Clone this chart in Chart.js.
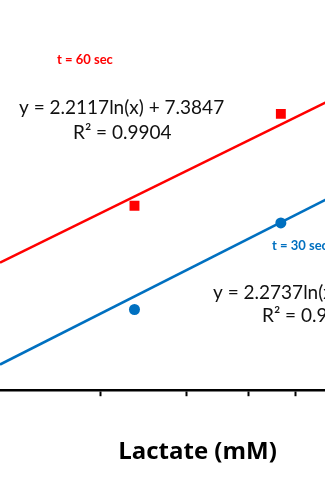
<!DOCTYPE html>
<html>
<head>
<meta charset="utf-8">
<script src="https://cdn.jsdelivr.net/npm/chart.js@4.4.0/dist/chart.umd.min.js"></script>
<style>
  html, body { margin: 0; padding: 0; background: #fff; overflow: hidden; }
  #wrap { position: relative; width: 325px; height: 487px; overflow: hidden; }
  #chart { position: absolute; left: 0; top: 0; }
</style>
</head>
<body>
<div id="wrap"><canvas id="chart" width="395" height="487"></canvas></div>
<script>
// lactate concentration of the calibration points (mM)
const lactate = [2.35, 4.66];
// response after 60 s and after 30 s
const signal60 = [9.08, 11.01];
const signal30 = [6.90, 8.72];
// logarithmic trendlines, y = a*ln(x) + b
const fit60 = { a: 2.2117, b: 7.3847, r2: 0.9904 };
const fit30 = { a: 2.2737, b: 5.2312, r2: 0.9866 };
// minor ticks of the log axis
const xTicks = [2, 3, 4, 5, 6, 7];

const X_MIN = 1.2528, X_MAX = 7.948;
const Y_MIN = 5.204, Y_MAX = 13.404;

const RED = '#ff0000';
const BLUE = '#0070c0';
const TEXT = '#111111';
const FONT = 'Lato, "Open Sans", sans-serif';

function points(xs, ys) {
  return xs.map((x, i) => ({ x: x, y: ys[i] }));
}

// trendline across the whole axis range
function fitLine(fit) {
  return [X_MIN, X_MAX].map(x => ({ x: x, y: fit.a * Math.log(x) + fit.b }));
}

function eqText(fit) {
  return 'y = ' + fit.a.toFixed(4) + 'ln(x) + ' + fit.b.toFixed(4);
}

// trendline labels, placed relative to the chart area
const notes = [
  { text: 't = 60 sec', x: 57, y: 64, color: RED, font: 'bold 13px ' + FONT },
  { text: eqText(fit60), x: 19, y: 114, color: TEXT, font: '19px ' + FONT },
  { text: 'R² = ' + fit60.r2.toFixed(4), x: 73, y: 139, color: TEXT, font: '19px ' + FONT },
  { text: 't = 30 sec', x: 272, y: 250, color: BLUE, font: 'bold 13px ' + FONT },
  { text: eqText(fit30), x: 213, y: 299, color: TEXT, font: '19px ' + FONT },
  { text: 'R² = ' + fit30.r2.toFixed(4), x: 262, y: 322, color: TEXT, font: '19px ' + FONT }
];

const notesPlugin = {
  id: 'notes',
  afterDatasetsDraw(chart) {
    const ctx = chart.ctx;
    const area = chart.chartArea;
    ctx.save();
    ctx.textBaseline = 'alphabetic';
    ctx.textAlign = 'left';
    notes.forEach(n => {
      ctx.font = n.font;
      ctx.fillStyle = n.color;
      ctx.fillText(n.text, area.left + n.x, area.top + n.y);
    });
    ctx.restore();
  }
};

new Chart(document.getElementById('chart'), {
  type: 'scatter',
  data: {
    datasets: [
      {
        label: 'fit 60 s',
        data: fitLine(fit60),
        showLine: true,
        borderColor: RED,
        borderWidth: 2.5,
        pointRadius: 0,
        order: 3
      },
      {
        label: 'fit 30 s',
        data: fitLine(fit30),
        showLine: true,
        borderColor: BLUE,
        borderWidth: 2.5,
        pointRadius: 0,
        order: 4
      },
      {
        label: 't = 60 sec',
        data: points(lactate, signal60),
        pointStyle: 'rect',
        pointRadius: 7,
        backgroundColor: RED,
        borderColor: RED,
        borderWidth: 0,
        order: 1
      },
      {
        label: 't = 30 sec',
        data: points(lactate, signal30),
        pointStyle: 'circle',
        pointRadius: 5.5,
        backgroundColor: BLUE,
        borderColor: BLUE,
        borderWidth: 0,
        order: 2
      }
    ]
  },
  options: {
    responsive: false,
    animation: false,
    layout: { padding: 0, autoPadding: false },
    plugins: {
      legend: { display: false },
      tooltip: { enabled: false }
    },
    scales: {
      x: {
        type: 'logarithmic',
        min: X_MIN,
        max: X_MAX,
        afterBuildTicks: scale => {
          scale.ticks = xTicks.filter(v => v >= X_MIN && v <= X_MAX).map(v => ({ value: v }));
        },
        ticks: { display: false },
        grid: {
          drawOnChartArea: false,
          drawTicks: true,
          tickLength: 6,
          tickWidth: 2,
          tickColor: '#000'
        },
        border: { display: true, color: '#000', width: 2.5 },
        title: {
          display: true,
          text: 'Lactate (mM)',
          color: '#000',
          font: { family: '"Open Sans", sans-serif', size: 24, weight: 'bold', lineHeight: 1.2 },
          padding: { top: 41.5, bottom: 20.5 }
        }
      },
      y: {
        display: false,
        min: Y_MIN,
        max: Y_MAX
      }
    }
  },
  plugins: [notesPlugin]
});
</script>
</body>
</html>
